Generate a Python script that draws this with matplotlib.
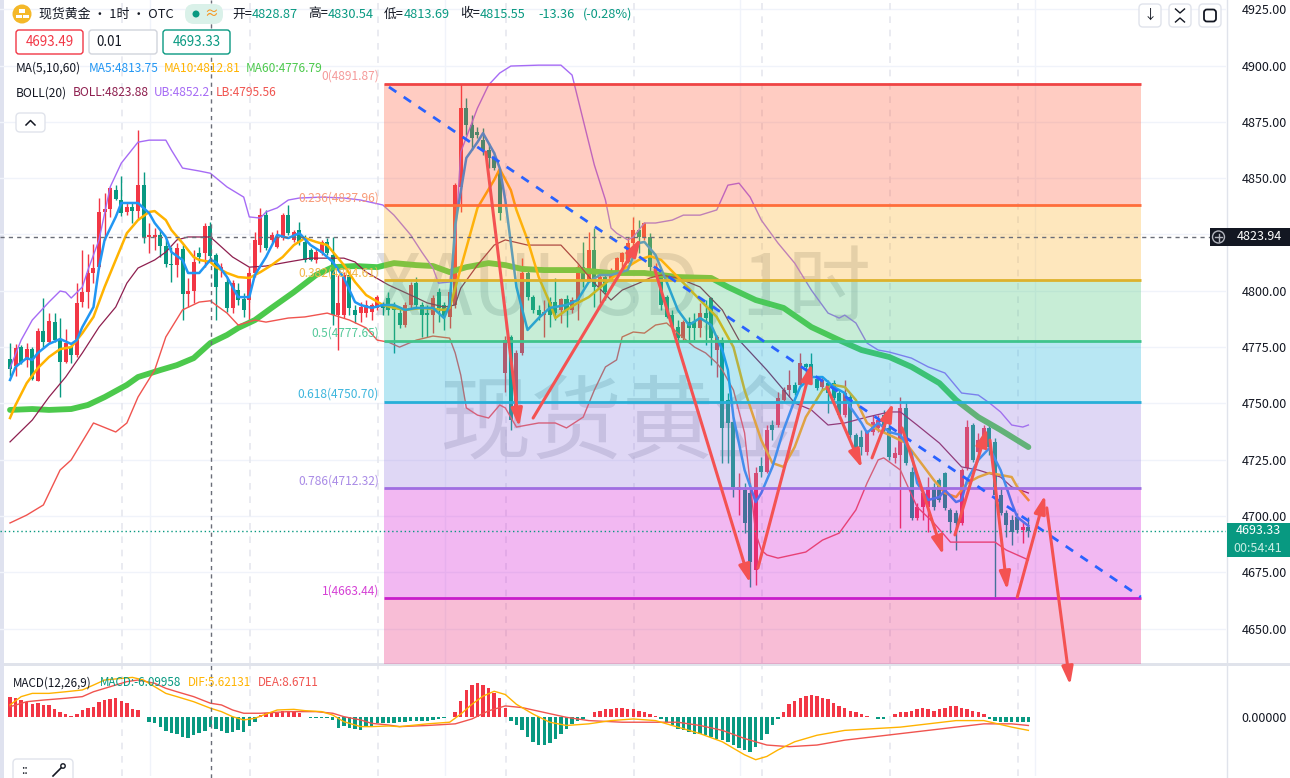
import numpy as np
import matplotlib.pyplot as plt
from matplotlib.patches import FancyBboxPatch, Rectangle, Circle
from matplotlib.lines import Line2D
from matplotlib.transforms import IdentityTransform

plt.rcParams['font.family'] = ['Noto Sans CJK SC', 'DejaVu Sans']

# ---------------- data (XAUUSD 1h candles) ----------------
opens = [4769.7, 4766.6, 4775.0, 4769.3, 4774.1, 4760.0, 4782.1, 4777.2, 4786.1, 4778.1,
         4768.4, 4775.0, 4771.5, 4795.0, 4799.4, 4807.9, 4810.5, 4835.0, 4836.3, 4844.7,
         4840.3, 4835.0, 4837.2, 4835.4, 4847.0, 4823.9, 4823.9, 4824.8, 4819.9, 4811.9,
         4811.4, 4818.5, 4798.6, 4799.9, 4816.8, 4816.8, 4828.87, 4815.9, 4809.2, 4803.9,
         4792.4, 4800.3, 4796.3, 4795.9, 4807.9, 4820.3, 4833.6, 4822.6, 4819.4, 4823.4,
         4833.6, 4822.6, 4827.0, 4821.7, 4818.1, 4813.7, 4816.8, 4821.7, 4815.9, 4789.2,
         4789.2, 4807.0, 4791.5, 4790.1, 4790.1, 4790.6, 4792.4, 4793.7, 4796.8, 4793.7,
         4790.1, 4784.8, 4793.7, 4803.4, 4793.7, 4790.1, 4789.2, 4799.4, 4793.7, 4788.4,
         4793.7, 4846.1, 4881.1, 4873.6, 4870.5, 4867.0, 4862.5, 4859.0, 4852.7, 4763.5,
         4779.5, 4744.8, 4772.4, 4807.9, 4797.2, 4791.5, 4789.2, 4795.0, 4795.0, 4791.5,
         4796.3, 4791.5, 4795.9, 4810.5, 4804.8, 4818.1, 4801.2, 4806.1, 4804.8, 4808.3,
         4812.8, 4812.8, 4821.2, 4827.0, 4823.9, 4823.9, 4809.2, 4806.1, 4797.2, 4789.2,
         4783.9, 4779.0, 4786.1, 4786.1, 4783.5, 4790.1, 4796.8, 4773.7, 4778.1, 4751.5,
         4741.7, 4711.5, 4711.5, 4710.2, 4676.0, 4722.2, 4719.5, 4740.4, 4740.4, 4751.5,
         4755.9, 4758.2, 4758.2, 4767.5, 4767.5, 4760.8, 4757.3, 4759.0, 4759.0, 4754.6,
         4744.8, 4752.8, 4736.0, 4735.1, 4728.4, 4737.3, 4739.1, 4744.8, 4739.1, 4725.8,
         4727.1, 4747.9, 4719.5, 4699.1, 4704.0, 4704.0, 4712.9, 4716.0, 4719.1, 4702.7,
         4701.3, 4696.9, 4721.3, 4740.4, 4728.4, 4733.7, 4739.1, 4732.9, 4709.3, 4701.3,
         4698.2, 4699.5, 4693.8, 4695.1]
highs = [4776.8, 4776.4, 4775.9, 4776.8, 4775.0, 4783.5, 4796.8, 4790.1, 4790.1, 4787.9,
         4783.0, 4776.8, 4803.4, 4818.1, 4816.3, 4820.8, 4841.2, 4843.4, 4846.1, 4847.0,
         4851.0, 4839.4, 4839.4, 4871.4, 4852.7, 4830.1, 4827.9, 4827.0, 4822.6, 4819.4,
         4821.2, 4820.3, 4805.7, 4818.1, 4819.4, 4830.1, 4830.54, 4816.8, 4812.3, 4806.1,
         4804.8, 4803.4, 4799.0, 4810.5, 4826.1, 4836.8, 4835.9, 4826.1, 4827.0, 4834.5,
         4838.1, 4827.0, 4830.5, 4824.8, 4819.0, 4819.0, 4822.6, 4823.4, 4823.9, 4807.0,
         4808.3, 4808.3, 4793.7, 4795.0, 4795.9, 4794.6, 4798.1, 4795.0, 4799.4, 4795.0,
         4792.4, 4795.0, 4803.9, 4806.1, 4795.0, 4793.7, 4798.1, 4801.2, 4795.0, 4801.2,
         4847.8, 4891.87, 4885.6, 4878.0, 4872.7, 4872.3, 4865.6, 4861.6, 4854.5, 4779.9,
         4780.4, 4773.7, 4814.5, 4810.5, 4798.1, 4793.7, 4795.9, 4797.2, 4805.7, 4796.8,
         4798.1, 4797.2, 4811.4, 4821.7, 4826.1, 4827.9, 4807.0, 4807.0, 4810.1, 4815.0,
         4817.2, 4823.9, 4832.8, 4831.4, 4830.5, 4825.6, 4812.3, 4807.0, 4798.1, 4791.5,
         4787.0, 4787.0, 4788.4, 4790.1, 4794.6, 4795.9, 4797.2, 4780.4, 4779.5, 4754.6,
         4743.9, 4719.1, 4714.6, 4714.6, 4721.8, 4726.2, 4740.4, 4742.6, 4755.1, 4757.3,
         4764.8, 4759.5, 4772.4, 4767.9, 4772.4, 4761.7, 4761.7, 4760.4, 4760.4, 4755.9,
         4760.4, 4754.6, 4736.9, 4738.2, 4738.2, 4744.8, 4744.8, 4747.1, 4742.6, 4730.6,
         4752.8, 4750.6, 4721.8, 4705.8, 4711.5, 4717.3, 4714.6, 4716.9, 4719.5, 4703.6,
         4702.7, 4721.3, 4742.6, 4741.3, 4736.9, 4740.4, 4741.3, 4734.6, 4712.9, 4702.7,
         4700.4, 4701.3, 4697.3, 4699.5]
lows = [4762.2, 4762.2, 4767.5, 4766.2, 4760.4, 4759.8, 4775.0, 4776.8, 4777.2, 4752.8,
        4767.9, 4767.9, 4770.6, 4792.8, 4792.4, 4803.4, 4810.1, 4822.6, 4832.8, 4840.3,
        4833.2, 4833.6, 4830.1, 4831.4, 4821.2, 4816.8, 4818.1, 4815.0, 4810.5, 4803.9,
        4806.1, 4787.0, 4792.8, 4794.6, 4812.3, 4810.5, 4813.69, 4787.0, 4806.1, 4790.6,
        4790.1, 4793.7, 4788.4, 4787.0, 4806.1, 4817.2, 4818.1, 4821.7, 4819.0, 4822.6,
        4824.8, 4821.7, 4820.3, 4812.8, 4813.2, 4812.3, 4815.9, 4815.9, 4784.8, 4773.7,
        4787.9, 4789.2, 4785.7, 4786.1, 4788.4, 4787.0, 4791.5, 4789.2, 4789.2, 4772.4,
        4783.5, 4783.9, 4792.4, 4792.4, 4779.5, 4779.5, 4781.2, 4786.1, 4782.6, 4783.5,
        4792.4, 4835.0, 4869.2, 4862.5, 4867.8, 4860.3, 4854.5, 4853.6, 4831.4, 4755.1,
        4738.2, 4742.6, 4771.5, 4795.9, 4790.1, 4787.0, 4779.5, 4783.9, 4787.0, 4785.7,
        4783.9, 4790.1, 4787.0, 4801.7, 4803.9, 4792.8, 4794.6, 4795.9, 4804.3, 4807.9,
        4807.9, 4812.3, 4819.4, 4816.8, 4822.6, 4808.3, 4806.1, 4791.5, 4787.9, 4783.5,
        4775.0, 4778.1, 4776.8, 4778.1, 4779.5, 4775.9, 4767.0, 4761.7, 4723.5, 4723.5,
        4708.4, 4700.4, 4692.4, 4668.5, 4669.4, 4717.3, 4719.1, 4733.7, 4739.5, 4750.6,
        4752.8, 4753.7, 4757.3, 4761.7, 4760.4, 4755.9, 4755.9, 4745.7, 4751.5, 4743.5,
        4743.9, 4733.7, 4727.1, 4727.1, 4727.1, 4736.0, 4737.3, 4737.3, 4724.9, 4723.5,
        4694.7, 4722.6, 4698.2, 4698.2, 4698.2, 4692.9, 4702.7, 4706.2, 4702.7, 4692.4,
        4684.9, 4696.0, 4720.4, 4724.0, 4728.0, 4732.9, 4727.1, 4664.0, 4700.4, 4690.7,
        4687.1, 4692.4, 4688.0, 4690.7]
closes = [4765.3, 4774.6, 4767.9, 4774.1, 4760.8, 4782.1, 4777.2, 4786.6, 4778.1, 4768.4,
          4776.8, 4771.5, 4794.6, 4799.4, 4807.9, 4810.1, 4835.0, 4836.3, 4845.6, 4840.7,
          4834.5, 4837.2, 4835.4, 4847.0, 4823.9, 4824.8, 4824.8, 4819.9, 4811.9, 4811.4,
          4819.0, 4798.6, 4799.9, 4812.8, 4815.0, 4828.8, 4815.55, 4801.7, 4810.5, 4792.4,
          4803.4, 4795.9, 4791.5, 4807.9, 4822.6, 4833.6, 4819.0, 4824.8, 4823.4, 4833.6,
          4825.6, 4826.1, 4821.7, 4813.7, 4813.7, 4817.2, 4821.7, 4816.8, 4789.2, 4794.6,
          4807.0, 4792.4, 4789.2, 4792.8, 4793.7, 4793.7, 4797.2, 4792.4, 4791.5, 4791.5,
          4784.8, 4793.7, 4802.6, 4793.7, 4789.2, 4789.2, 4796.8, 4792.4, 4788.4, 4799.4,
          4847.0, 4881.1, 4873.6, 4867.8, 4869.2, 4862.5, 4859.0, 4854.5, 4834.5, 4778.1,
          4742.6, 4772.4, 4807.9, 4797.2, 4791.5, 4789.2, 4790.6, 4789.2, 4790.1, 4796.3,
          4791.5, 4795.9, 4810.5, 4804.8, 4818.1, 4801.7, 4806.1, 4799.4, 4808.3, 4814.5,
          4816.8, 4821.2, 4827.0, 4823.9, 4830.1, 4810.5, 4810.5, 4793.7, 4788.4, 4783.9,
          4779.0, 4786.1, 4783.5, 4783.5, 4790.1, 4787.9, 4779.0, 4779.5, 4739.1, 4741.3,
          4712.9, 4712.9, 4696.9, 4679.6, 4719.1, 4719.5, 4738.2, 4738.2, 4752.4, 4755.9,
          4758.2, 4754.6, 4767.9, 4766.2, 4761.7, 4756.8, 4760.4, 4754.6, 4752.4, 4744.8,
          4754.6, 4736.0, 4728.4, 4730.6, 4737.3, 4741.7, 4742.6, 4739.5, 4726.2, 4728.0,
          4747.9, 4723.5, 4699.1, 4704.0, 4710.2, 4712.9, 4704.0, 4707.1, 4703.6, 4697.3,
          4696.9, 4720.4, 4739.5, 4724.9, 4733.7, 4739.1, 4730.6, 4709.3, 4701.3, 4696.0,
          4692.9, 4693.8, 4695.1, 4693.33]

# indicator lines (bar number, value)
ma5_idx = [0, 1, 3, 4, 5, 7, 9, 11, 12, 13, 15, 16, 17, 19, 20, 23, 25, 26, 28, 29,
           31, 32, 34, 36, 37, 39, 41, 43, 44, 46, 48, 50, 52, 54, 56, 58, 60, 62, 63, 65,
           67, 69, 71, 73, 76, 78, 79, 80, 82, 84, 85, 87, 88, 89, 90, 91, 93, 95, 97, 100,
           102, 104, 106, 108, 111, 113, 114, 116, 118, 120, 122, 124, 126, 128, 129, 130, 132, 134, 135, 137,
           139, 141, 142, 144, 146, 148, 150, 151, 153, 154, 156, 158, 160, 162, 163, 165, 167, 168, 170, 171,
           172, 174, 176, 178, 180, 181, 183]
ma5_val = [4760.4, 4766.2, 4770.1, 4769.3, 4772.4, 4776.4, 4778.6, 4776.4, 4778.1, 4783.9,
           4792.8, 4810.5, 4822.6, 4832.8, 4839.0, 4839.0, 4834.5, 4830.1, 4823.9, 4817.2,
           4813.7, 4807.9, 4807.9, 4813.75, 4812.8, 4806.1, 4797.2, 4797.2, 4807.0, 4815.0,
           4824.8, 4823.4, 4825.6, 4820.3, 4817.2, 4812.8, 4805.7, 4795.0, 4793.7, 4792.4,
           4793.7, 4793.7, 4791.5, 4792.4, 4792.4, 4787.9, 4793.7, 4829.2, 4859.0, 4866.0,
           4870.0, 4861.2, 4854.5, 4840.3, 4821.2, 4801.7, 4782.6, 4787.9, 4792.4, 4793.7,
           4795.9, 4803.9, 4807.0, 4807.0, 4809.2, 4821.2, 4821.7, 4815.9, 4803.9, 4791.5,
           4784.8, 4787.9, 4784.8, 4773.7, 4764.8, 4743.9, 4720.4, 4706.2, 4710.2, 4721.8,
           4738.2, 4751.5, 4757.3, 4761.7, 4761.7, 4757.3, 4754.6, 4748.4, 4741.3, 4736.9,
           4741.3, 4737.3, 4736.0, 4728.0, 4714.6, 4707.1, 4708.4, 4711.5, 4706.2, 4707.1,
           4716.0, 4724.9, 4730.2, 4720.4, 4705.8, 4699.5, 4695.6]

ma10_idx = [0, 1, 3, 5, 7, 9, 11, 13, 15, 17, 19, 21, 23, 25, 26, 28, 29, 31, 33, 34,
            36, 37, 39, 41, 43, 45, 47, 49, 51, 53, 55, 57, 60, 62, 64, 67, 69, 71, 74, 78,
            79, 80, 82, 84, 87, 88, 90, 91, 93, 95, 97, 98, 100, 102, 104, 107, 110, 113, 115, 117,
            120, 124, 127, 130, 132, 135, 137, 139, 141, 143, 146, 148, 150, 152, 154, 156, 158, 161, 164, 166,
            168, 170, 172, 174, 176, 180, 181, 183]
ma10_val = [4743.5, 4749.3, 4759.0, 4765.7, 4770.6, 4774.1, 4775.0, 4781.2, 4788.4, 4801.7,
            4813.7, 4825.6, 4831.4, 4835.0, 4835.4, 4831.4, 4827.0, 4821.2, 4815.0, 4813.7,
            4812.81, 4810.5, 4807.9, 4806.1, 4805.7, 4808.3, 4811.4, 4815.0, 4820.3, 4823.4,
            4821.7, 4820.3, 4811.4, 4803.9, 4798.1, 4793.7, 4792.4, 4791.5, 4792.4, 4791.5,
            4792.4, 4801.2, 4819.0, 4836.8, 4849.2, 4854.1, 4844.7, 4835.9, 4822.6, 4806.1,
            4794.6, 4787.9, 4791.5, 4794.6, 4797.2, 4803.4, 4809.2, 4813.7, 4815.4, 4813.7,
            4806.1, 4795.9, 4788.4, 4775.0, 4755.9, 4733.7, 4723.5, 4721.8, 4730.6, 4743.9,
            4755.9, 4758.2, 4757.3, 4751.5, 4741.3, 4738.2, 4736.0, 4732.4, 4722.6, 4716.0,
            4710.2, 4708.4, 4714.6, 4717.3, 4719.1, 4717.3, 4712.9, 4707.1]

ma60_idx = [0, 4, 7, 11, 14, 17, 21, 23, 27, 30, 33, 36, 39, 41, 44, 47, 51, 55, 58, 62,
            66, 69, 73, 76, 79, 82, 86, 89, 92, 96, 102, 108, 114, 120, 126, 129, 134, 139, 144, 149,
            153, 158, 162, 167, 170, 174, 178, 183]
ma60_val = [4747.1, 4747.5, 4747.1, 4747.5, 4749.3, 4752.8, 4758.2, 4761.7, 4764.8, 4767.0,
            4770.1, 4776.79, 4780.4, 4783.5, 4787.0, 4792.4, 4799.4, 4807.0, 4810.5, 4811.0,
            4810.5, 4812.3, 4811.4, 4811.0, 4808.3, 4810.5, 4812.3, 4811.4, 4809.7, 4809.2,
            4809.2, 4807.9, 4807.9, 4806.1, 4805.7, 4801.7, 4795.9, 4792.4, 4783.9, 4778.1,
            4773.7, 4770.6, 4766.2, 4759.0, 4751.5, 4743.9, 4738.2, 4730.6]

boll_idx = [0, 4, 7, 10, 13, 16, 19, 21, 23, 26, 28, 30, 32, 36, 37, 40, 43, 46, 50, 54,
            60, 62, 64, 68, 72, 75, 78, 80, 81, 84, 87, 89, 93, 99, 102, 105, 108, 110, 113, 115,
            117, 120, 124, 128, 131, 136, 141, 144, 147, 150, 154, 158, 160, 163, 167, 171, 174, 178, 180, 183]
boll_val = [4732.9, 4742.6, 4752.8, 4761.7, 4772.4, 4783.9, 4792.8, 4803.4, 4810.1, 4813.7,
            4817.2, 4822.6, 4823.9, 4823.88, 4821.7, 4815.0, 4810.5, 4811.0, 4812.8, 4814.5,
            4814.5, 4812.8, 4808.3, 4802.6, 4798.1, 4794.6, 4792.8, 4793.7, 4801.2, 4811.4,
            4820.3, 4822.6, 4820.3, 4820.3, 4812.3, 4803.4, 4795.9, 4800.3, 4803.4, 4805.7,
            4807.0, 4805.7, 4801.7, 4791.5, 4778.1, 4764.8, 4750.2, 4747.1, 4740.4, 4741.3,
            4743.9, 4746.2, 4746.2, 4740.4, 4732.4, 4721.8, 4720.4, 4717.3, 4712.9, 4710.2]

ub_idx = [0, 2, 4, 7, 9, 10, 11, 13, 14, 16, 18, 20, 23, 25, 28, 29, 31, 34, 36, 39,
          42, 43, 45, 46, 48, 50, 52, 56, 60, 63, 67, 69, 72, 74, 76, 77, 79, 80, 81, 84,
          86, 88, 90, 95, 99, 101, 103, 105, 107, 108, 109, 111, 112, 114, 116, 119, 121, 124, 127, 129,
          131, 133, 135, 138, 141, 144, 147, 149, 150, 152, 154, 156, 158, 162, 165, 168, 171, 174, 176, 178,
          180, 182, 183]
ub_val = [4765.7, 4778.1, 4787.0, 4795.0, 4799.9, 4799.4, 4796.8, 4801.7, 4809.2, 4822.6,
          4846.1, 4856.7, 4866.0, 4866.9, 4866.9, 4862.5, 4854.5, 4853.2, 4852.2, 4846.1,
          4841.6, 4832.8, 4832.3, 4835.0, 4836.8, 4840.3, 4841.2, 4841.6, 4841.2, 4840.3,
          4838.1, 4833.6, 4824.8, 4817.2, 4810.1, 4803.4, 4803.9, 4821.7, 4861.6, 4881.1,
          4891.4, 4896.7, 4899.8, 4900.2, 4900.2, 4895.8, 4875.8, 4855.9, 4840.3, 4827.9,
          4825.6, 4822.6, 4823.9, 4830.1, 4830.1, 4831.4, 4833.6, 4833.6, 4835.9, 4846.9,
          4847.8, 4841.6, 4831.4, 4821.2, 4812.3, 4800.3, 4790.1, 4787.9, 4789.2, 4785.7,
          4776.8, 4773.7, 4772.8, 4770.1, 4766.2, 4763.5, 4754.6, 4753.7, 4750.2, 4746.2,
          4740.4, 4739.5, 4740.4]

lb_idx = [0, 3, 6, 9, 11, 15, 19, 21, 23, 26, 28, 31, 34, 36, 37, 39, 41, 44, 46, 50,
          53, 57, 61, 64, 66, 68, 70, 73, 76, 79, 80, 81, 82, 84, 86, 88, 89, 91, 95, 98,
          100, 103, 105, 107, 109, 110, 112, 114, 116, 118, 120, 123, 125, 127, 128, 130, 132, 133, 134, 135,
          136, 138, 143, 146, 149, 152, 154, 156, 157, 160, 163, 166, 169, 173, 177, 179, 181, 183]
lb_val = [4696.9, 4700.4, 4704.9, 4720.4, 4724.9, 4741.3, 4737.3, 4741.3, 4752.8, 4764.8,
          4779.5, 4791.5, 4795.0, 4795.56, 4793.7, 4790.1, 4784.8, 4787.0, 4786.1, 4787.9,
          4788.4, 4790.1, 4787.0, 4783.5, 4778.1, 4777.2, 4775.0, 4778.1, 4779.9, 4779.0,
          4772.4, 4762.6, 4748.0, 4744.8, 4743.5, 4749.3, 4748.0, 4739.5, 4741.3, 4741.3,
          4739.1, 4743.9, 4755.9, 4766.2, 4769.3, 4779.5, 4781.7, 4781.2, 4784.8, 4785.7,
          4781.2, 4775.0, 4772.4, 4767.9, 4764.8, 4755.9, 4736.9, 4714.6, 4692.4, 4684.9,
          4682.7, 4681.3, 4684.0, 4689.3, 4692.4, 4702.7, 4714.6, 4724.9, 4725.8, 4720.4,
          4704.0, 4696.9, 4688.4, 4688.4, 4688.4, 4684.9, 4682.7, 4680.5]

# MACD(12,26,9) histogram per bar and DIF / DEA lines
macd_hist = [12.7, 11.7, 10.6, 9.6, 8.0, 8.6, 7.6, 7.6, 5.1, 3.5,
             2.0, 0.8, 1.8, 4.5, 5.5, 6.5, 9.2, 10.6, 11.2, 11.7,
             10.2, 8.6, 5.1, 4.5, 0.4, -2.7, -3.7, -5.7, -8.2, -9.8,
             -10.2, -12.3, -12.9, -10.8, -9.8, -8.2, -6.09958, -7.2, -8.2, -9.4,
             -8.8, -7.8, -8.8, -5.3, -2.7, 1.4, 2.5, 2.9, 2.5, 4.1,
             3.5, 3.1, 2.5, 0.4, -0.6, -0.4, -0.2, -0.6, -1.6, -6.7,
             -5.3, -6.7, -7.4, -7.8, -5.7, -5.1, -3.7, -3.3, -3.3, -3.3,
             -3.0, -3.0, -2.5, -2.5, -2.0, -2.0, -1.5, -1.0, -0.5, 0.3,
             3.0, 10.0, 17.0, 20.0, 21.0, 20.0, 18.0, 15.0, 12.0, 6.0,
             -2.0, -5.0, -8.0, -12.0, -15.0, -17.0, -17.0, -16.0, -13.0, -10.0,
             -7.0, -4.0, -2.0, -1.0, 0.3, 3.0, 4.0, 5.0, 5.0, 6.0,
             6.0, 5.0, 5.0, 4.0, 3.0, 2.0, 1.0, -1.0, -3.0, -5.0,
             -7.0, -8.0, -9.0, -10.0, -10.0, -11.0, -12.0, -13.0, -14.0, -15.0,
             -17.0, -19.0, -20.0, -21.0, -18.0, -14.0, -10.0, -5.0, -1.0, 3.0,
             8.0, 10.0, 12.0, 13.0, 14.0, 13.0, 12.0, 11.0, 9.0, 7.0,
             6.0, 4.0, 3.0, 2.0, 1.0, 0.3, -1.0, -1.0, 0.3, 2.0,
             3.0, 3.0, 4.0, 5.0, 6.0, 5.0, 4.0, 5.0, 6.0, 7.0,
             7.0, 6.0, 5.0, 4.0, 3.0, 2.0, -1.0, -2.0, -3.0, -3.0,
             -3.0, -3.0, -3.0, -3.0]
dif_idx = [0, 2, 4, 7, 10, 13, 15, 17, 20, 22, 24, 26, 28, 30, 33, 36, 38, 40, 42, 44,
           46, 48, 51, 53, 56, 58, 60, 63, 65, 68, 70, 75, 79, 81, 83, 85, 87, 89, 91, 94,
           97, 100, 104, 108, 112, 116, 120, 124, 128, 132, 134, 136, 138, 141, 145, 150, 155, 160, 165, 170,
           175, 180, 183]
dif_val = [7.6, 12.7, 14.7, 14.7, 15.7, 16.8, 19.8, 22.9, 23.9, 24.5, 22.9, 18.8, 14.7, 12.7, 9.6, 5.62131,
           3.5, 0.4, -1.6, -0.6, 2.0, 4.5, 4.9, 4.1, 3.5, 1.4, -2.7, -5.7, -5.7, -5.3,
           -5.7, -4.0, -3.0, 2.0, 8.0, 13.0, 16.0, 14.0, 8.0, 2.0, -3.0, -5.0, -4.0, -2.0,
           -1.0, -2.0, -6.0, -10.0, -15.0, -23.0, -26.0, -24.0, -20.0, -15.0, -11.0, -8.0,
           -7.0, -6.0, -4.0, -2.0, -2.0, -6.0, -8.0]
dea_idx = [0, 3, 6, 10, 13, 15, 18, 21, 23, 26, 28, 30, 33, 36, 38, 40, 42, 45, 47, 50,
           53, 55, 58, 60, 63, 65, 68, 70, 75, 80, 83, 86, 89, 92, 96, 100, 104, 110, 116, 120,
           124, 128, 132, 136, 140, 145, 150, 155, 160, 165, 170, 175, 180, 183]
dea_val = [6.5, 9.6, 10.6, 11.7, 12.7, 15.7, 18.8, 21.9, 22.9, 20.9, 17.8, 15.7, 12.7, 8.6711,
           7.6, 4.5, 2.5, 2.5, 2.9, 3.5, 3.5, 3.5, 2.5, 0.4, -1.6, -3.7, -4.7, -5.7, -5.0, -4.0,
           -1.0, 4.0, 7.0, 6.0, 3.0, 0.0, -2.0, -3.0, -3.0, -3.0, -5.0, -8.0, -13.0, -17.0,
           -18.0, -17.0, -14.0, -12.0, -10.0, -8.0, -6.0, -4.0, -4.0, -5.0]

# fibonacci retracement
fib_ratio = ['0', '0.236', '0.382', '0.5', '0.618', '0.786', '1']
fib_price = [4891.87, 4837.96, 4804.61, 4777.65, 4750.70, 4712.32, 4663.44]
fib_start, fib_end = 67.2, 203.2   # bar numbers

# hand drawn lines: trend line and arrows (bar, price) -> (bar, price)
trend_line = [(68.1, 4890.5), (203.2, 4664.0)]
arrows = [((85.5, 4861.6), (91.5, 4739.5)),
          ((94.0, 4743.5), (113.4, 4823.4)),
          ((115.9, 4809.2), (133.0, 4670.2)),
          ((134.4, 4676.9), (144.1, 4767.9)),
          ((146.8, 4757.3), (153.1, 4721.3)),
          ((154.9, 4725.8), (158.7, 4750.2)),
          ((160.3, 4739.1), (167.7, 4682.7)),
          ((169.8, 4691.6), (175.6, 4739.1)),
          ((176.1, 4733.7), (179.2, 4667.1)),
          ((181.0, 4664.0), (186.0, 4709.3)),
          ((186.3, 4703.6), (190.5, 4624.9))]

price_ticks = [4650, 4675, 4700, 4725, 4750, 4775, 4800, 4825, 4850, 4875, 4900, 4925]
last_price = 4693.33
cross_bar, cross_price = 36, 4823.94

# ---------------- figure ----------------
W, H = 1290, 778
fig = plt.figure(figsize=(W / 100, H / 100), dpi=100)
fig.patch.set_facecolor('white')
PX = IdentityTransform()
R = fig.canvas.get_renderer()


def bx(px):
    # pixel column -> bar number (bar 0 at x=10, 5.565 px per bar)
    return (px - 10) / 5.565


def txt(x, y, s, **kw):
    return fig.text(x, H - y, s, transform=PX, **kw)


def box(x0, y0, x1, y1, fc, ec='none', lw=1, r=0, z=2):
    p = FancyBboxPatch((x0, H - y1), x1 - x0, y1 - y0,
                       boxstyle='round,pad=0,rounding_size=%s' % r if r else 'square,pad=0',
                       fc=fc, ec=ec, lw=lw, transform=PX, zorder=z)
    fig.add_artist(p)
    return p


ax = fig.add_axes([0, 1 - 663 / H, 1226 / W, 663 / H])
mx = fig.add_axes([0, 1 - 776 / H, 1226 / W, 110 / H])
ax.set_zorder(3)
ax.patch.set_visible(False)

ax.set_xlim(bx(0), bx(1226))
ax.set_ylim(4634.72, 4929.13)
mx.set_xlim(bx(0), bx(1226))
mx.set_ylim(-36.0, 31.5)

for a in (ax, mx):
    for s in a.spines.values():
        s.set_visible(False)
    a.set_xticks([])

# grid
for p in price_ticks:
    ax.axhline(p, color='#F0F3FA', lw=1, zorder=0)
for g in [150, 445, 740, 1035]:
    ax.axvline(bx(g), color='#F0F3FA', lw=1, zorder=0)
    mx.axvline(bx(g), color='#F0F3FA', lw=1, zorder=0)
for g in np.arange(122, 1130, 128):
    ax.axvline(bx(g), color='#E6E8EF', lw=1.2, ls=(0, (4, 4)), zorder=0)
    mx.axvline(bx(g), color='#E6E8EF', lw=1.2, ls=(0, (4, 4)), zorder=0)

# right price axis (4825 is hidden behind the crosshair tag)
ax.yaxis.tick_right()
ax.set_yticks(price_ticks)
ax.set_yticklabels(['' if p == 4825 else '%.2f' % p for p in price_ticks])
ax.tick_params(axis='y', length=0, pad=11, labelsize=9, labelcolor='#131722')
mx.yaxis.tick_right()
mx.set_yticks([0])
mx.set_yticklabels(['0.00000'])
mx.tick_params(axis='y', length=0, pad=11, labelsize=9, labelcolor='#131722')

# watermark
ax.text(bx(622), 4800.0, 'XAUUSD, 1时', ha='center', va='center', fontsize=60,
        color='#B2B5BE', alpha=0.45, zorder=1)
ax.text(bx(622), 4740.0, '现货黄金', ha='center', va='center', fontsize=66,
        color='#B2B5BE', alpha=0.45, zorder=1)

# candles (red up, green down)
UP, DN = '#F23645', '#089981'
for i in range(len(opens)):
    o, h, l, c = opens[i], highs[i], lows[i], closes[i]
    col = UP if c >= o else DN
    ax.vlines(i, l, h, color=col, lw=1, zorder=2)
    ax.bar(i, max(abs(c - o), 0.6), bottom=min(o, c), width=0.72, color=col, lw=0, zorder=2)

# indicators
ax.plot(ma60_idx, ma60_val, color='#4CC94C', lw=4.2, solid_capstyle='round', zorder=3)
ax.plot(boll_idx, boll_val, color='#8E1F4F', lw=0.9, zorder=3)
ax.plot(ub_idx, ub_val, color='#A66BF5', lw=1.0, zorder=3)
ax.plot(lb_idx, lb_val, color='#F0544F', lw=1.0, zorder=3)
ax.plot(ma10_idx, ma10_val, color='#FFB300', lw=1.8, zorder=3)
ax.plot(ma5_idx, ma5_val, color='#2196F3', lw=1.8, zorder=3)

# fibonacci zones (translucent, drawn above the candles)
zone_cols = ['#FF5837', '#FCB226', '#48C67A', '#16B2DA', '#987DE1', '#D416D4']
line_cols = ['#EF4444', '#FF6D3A', '#DDB22C', '#3FC48C', '#27AFD8', '#A06EE1', '#C81ECB']
label_cols = ['#F59A9A', '#F89A78', '#F2B84B', '#55C99A', '#3DB6DD', '#A98BE6', '#D540D5']
fx = [fib_start, fib_end]
for k in range(6):
    ax.fill_between(fx, fib_price[k + 1], fib_price[k], color=zone_cols[k], alpha=0.3, lw=0, zorder=4)
ax.fill_between(fx, 4600, fib_price[6], color='#E8267A', alpha=0.3, lw=0, zorder=4)
for k in range(7):
    ax.hlines(fib_price[k], fib_start, fib_end, color=line_cols[k], lw=2, zorder=5)
    ax.text(fib_start - 0.9, fib_price[k] + 3.4, '%s(%.2f)' % (fib_ratio[k], fib_price[k]),
            ha='right', va='center', fontsize=8.6, color=label_cols[k], zorder=5)

# trend line
ax.plot([trend_line[0][0], trend_line[1][0]], [trend_line[0][1], trend_line[1][1]],
        color='#2962FF', lw=2, ls=(0, (3.2, 3.2)), zorder=6)

# arrows
for a0, a1 in arrows:
    ax.annotate('', xy=a1, xytext=a0, annotation_clip=False, zorder=7,
                arrowprops=dict(arrowstyle='-|>,head_length=0.9,head_width=0.28', color='#F45252',
                                lw=2.2, shrinkA=0, shrinkB=0, mutation_scale=12, clip_on=False))

# crosshair + last price line
ax.hlines(cross_price, bx(0), bx(1210), color='#6A6D78', lw=1, ls=(0, (3, 3)), zorder=6)
ax.axhline(last_price, color='#089981', lw=1, ls=(0, (1, 2)), zorder=6)

# MACD pane
bar_cols = [UP if v >= 0 else DN for v in macd_hist]
mx.bar(range(len(macd_hist)), macd_hist, width=0.62, color=bar_cols, lw=0, zorder=2)
mx.plot(dea_idx, dea_val, color='#F0544F', lw=1, zorder=3)
mx.plot(dif_idx, dif_val, color='#FFB300', lw=1, zorder=3)

# ---------------- frame pieces ----------------
fig.add_artist(Rectangle((0, H - 666), W, 3, fc='#E0E3EB', ec='none', transform=PX, zorder=1))
fig.add_artist(Line2D([1226.5, 1226.5], [0, H], color='#E0E3EB', lw=1, transform=PX, zorder=1))
fig.add_artist(Rectangle((0, 0), 4, H, fc='#DFE2EF', ec='none', transform=PX, zorder=1))
fig.add_artist(Line2D([210.5, 210.5], [0, H], color='#6A6D78', lw=1, ls=(0, (3, 3)),
                      transform=PX, zorder=4))

# right axis price tags
box(1210, 228, 1290, 246, '#131722', z=5)
fig.add_artist(Circle((1218.5, H - 237), 6, fc='none', ec='#B2B5BE', lw=1, transform=PX, zorder=6))
fig.add_artist(Line2D([1215, 1222], [H - 237, H - 237], color='#B2B5BE', lw=1, transform=PX, zorder=6))
fig.add_artist(Line2D([1218.5, 1218.5], [H - 240.5, H - 233.5], color='#B2B5BE', lw=1, transform=PX, zorder=6))
txt(1259, 237, '4823.94', ha='center', va='center', fontsize=9, color='white', zorder=6)
box(1227, 523, 1290, 540, '#089981', z=5)
box(1227, 540, 1290, 557, '#089981', z=5)
txt(1258, 531, '4693.33', ha='center', va='center', fontsize=9, color='white', zorder=6)
txt(1258, 548, '00:54:41', ha='center', va='center', fontsize=9, color='#C8EDE3', zorder=6)

# header row
fig.add_artist(Circle((22, H - 14), 9.5, fc='#F4B829', ec='none', transform=PX, zorder=5))
for cx, cy in [(18.5, 16.5), (25.5, 16.5), (22, 11)]:
    fig.add_artist(Rectangle((cx - 3, H - cy - 1.8), 6, 3.6, fc='white', ec='none', transform=PX, zorder=6))
txt(39, 14, '现货黄金 • 1时 • OTC', va='center', fontsize=9.3, color='#131722')
box(185, 4, 223, 24, '#DAF1E9', r=9, z=4)
fig.add_artist(Circle((196, H - 14), 3.5, fc='#089981', ec='none', transform=PX, zorder=5))
txt(211, 14, '≈', ha='center', va='center', fontsize=10, color='#F7931A', zorder=5)

# OHLC readout: each label placed after the one before it
for x0, lab, val in [(232, '开=', '4828.87'), (308, '高=', '4830.54'),
                     (384, '低=', '4813.69'), (460, '收=', '4815.55')]:
    t = txt(x0, 14, lab, va='center', fontsize=9.2, color='#131722')
    x1 = t.get_window_extent(R).x1
    txt(x1, 14, val, va='center', fontsize=9.2, color=DN)
txt(538, 14, '-13.36', va='center', fontsize=9.2, color=DN)
txt(583, 14, '(-0.28%)', va='center', fontsize=9.2, color=DN)

# order boxes
box(16, 30, 83, 54, 'white', ec='#F23645', lw=1, r=3, z=4)
box(89, 30, 157, 54, 'white', ec='#D1D4DC', lw=1, r=3, z=4)
box(163, 30, 230, 54, 'white', ec='#089981', lw=1, r=3, z=4)
txt(49.5, 42.5, '4693.49', ha='center', va='center', fontsize=9.6, color='#F23645', zorder=5)
txt(96, 42.5, '0.01', va='center', fontsize=9.6, color='#131722', zorder=5)
txt(196.5, 42.5, '4693.33', ha='center', va='center', fontsize=9.6, color='#089981', zorder=5)

# indicator legends
for x, s, c in [(16, 'MA(5,10,60)', '#131722'), (89, 'MA5:4813.75', '#2196F3'),
                (164, 'MA10:4812.81', '#FFB300'), (246, 'MA60:4776.79', '#4CC94C')]:
    txt(x, 68, s, va='center', fontsize=8.6, color=c, zorder=5)
for x, s, c in [(16, 'BOLL(20)', '#131722'), (73, 'BOLL:4823.88', '#8E1F4F'),
                (154, 'UB:4852.2', '#A66BF5'), (216, 'LB:4795.56', '#F0544F')]:
    txt(x, 93, s, va='center', fontsize=8.6, color=c, zorder=5)
for x, s, c in [(13, 'MACD(12,26,9)', '#131722'), (100, 'MACD:-6.09958', '#089981'),
                (188, 'DIF:5.62131', '#FFB300'), (258, 'DEA:8.6711', '#F0544F')]:
    txt(x, 683, s, va='center', fontsize=8.4, color=c, zorder=5)

# collapse button
box(16, 113, 45, 132, 'white', ec='#E0E3EB', lw=1, r=4, z=5)
fig.add_artist(Line2D([26, 30.5, 35], [H - 125, H - 120.5, H - 125], color='#131722', lw=1.1,
                      transform=PX, zorder=6))

# top right buttons
for x0 in [1139, 1169, 1199]:
    box(x0, 4, x0 + 22, 27, 'white', ec='#E0E3EB', lw=1, r=4, z=5)
txt(1150, 15.5, '↓', ha='center', va='center', fontsize=9.5, color='#131722', zorder=6)
fig.add_artist(Line2D([1175.5, 1180, 1184.5], [H - 9, H - 13, H - 9], color='#131722', lw=1,
                      transform=PX, zorder=6))
fig.add_artist(Line2D([1175.5, 1180, 1184.5], [H - 22, H - 18, H - 22], color='#131722', lw=1,
                      transform=PX, zorder=6))
box(1204, 9.5, 1216, 21.5, 'none', ec='#131722', lw=1.3, r=3, z=6)

# bottom left toolbar
box(13, 759, 73, 784, 'white', ec='#E0E3EB', lw=1, r=4, z=5)
txt(25, 771, '::', ha='center', va='center', fontsize=9, color='#131722', zorder=6)
fig.add_artist(Line2D([53, 62], [H - 776, H - 767], color='#131722', lw=1.2, transform=PX, zorder=6))
fig.add_artist(Circle((63, H - 766), 2.2, fc='white', ec='#131722', lw=1, transform=PX, zorder=6))

fig.savefig('out.png', dpi=100)
